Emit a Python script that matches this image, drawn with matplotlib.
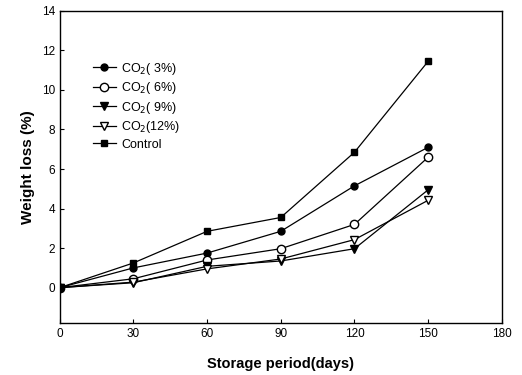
import numpy as np
import matplotlib.pyplot as plt

plt.rcParams['font.family'] = ['Liberation Sans', 'DejaVu Sans']

days = [0, 30, 60, 90, 120, 150]
co2_3 = [0, 1.0, 1.75, 2.85, 5.15, 7.1]
co2_6 = [0, 0.45, 1.4, 1.97, 3.2, 6.6]
co2_9 = [0, 0.25, 1.08, 1.35, 1.97, 4.95]
co2_12 = [0, 0.28, 0.95, 1.45, 2.43, 4.42]
control = [0, 1.25, 2.85, 3.55, 6.85, 11.45]

labels = ["CO$_2$( 3%)", "CO$_2$( 6%)", "CO$_2$( 9%)", "CO$_2$(12%)", "Control"]

fig = plt.figure(figsize=(5.22, 3.75), dpi=100)
ax = fig.add_axes([0.1144, 0.138, 0.847, 0.833])

ax.plot(days, co2_3, '-o', color='black', mfc='black', ms=5, lw=0.9, label=labels[0])
ax.plot(days, co2_6, '-o', color='black', mfc='white', ms=6, lw=0.9, label=labels[1])
ax.plot(days, co2_9, '-v', color='black', mfc='black', ms=6, lw=0.9, label=labels[2])
ax.plot(days, co2_12, '-v', color='black', mfc='white', ms=6, lw=0.9, label=labels[3])
ax.plot(days, control, '-s', color='black', mfc='black', ms=5, lw=0.9, label=labels[4])

ax.set_xlim(0, 180)
ax.set_ylim(-1.8, 14)
ax.set_xticks(np.arange(0, 181, 30))
ax.set_yticks(np.arange(0, 15, 2))
ax.tick_params(direction='in', length=3, labelsize=8.5, width=0.8)
for s in ax.spines.values():
    s.set_linewidth(1.0)

ax.set_xlabel("Storage period(days)", fontsize=10.5, fontweight='bold', labelpad=12)
ax.set_ylabel("Weight loss (%)", fontsize=11, fontweight='bold', labelpad=5)

ax.legend(loc='upper left', bbox_to_anchor=(0.063, 0.856), frameon=False,
          fontsize=9, handlelength=1.9, handletextpad=0.4, labelspacing=0.28,
          borderaxespad=0)

fig.savefig("out.png", dpi=100)
